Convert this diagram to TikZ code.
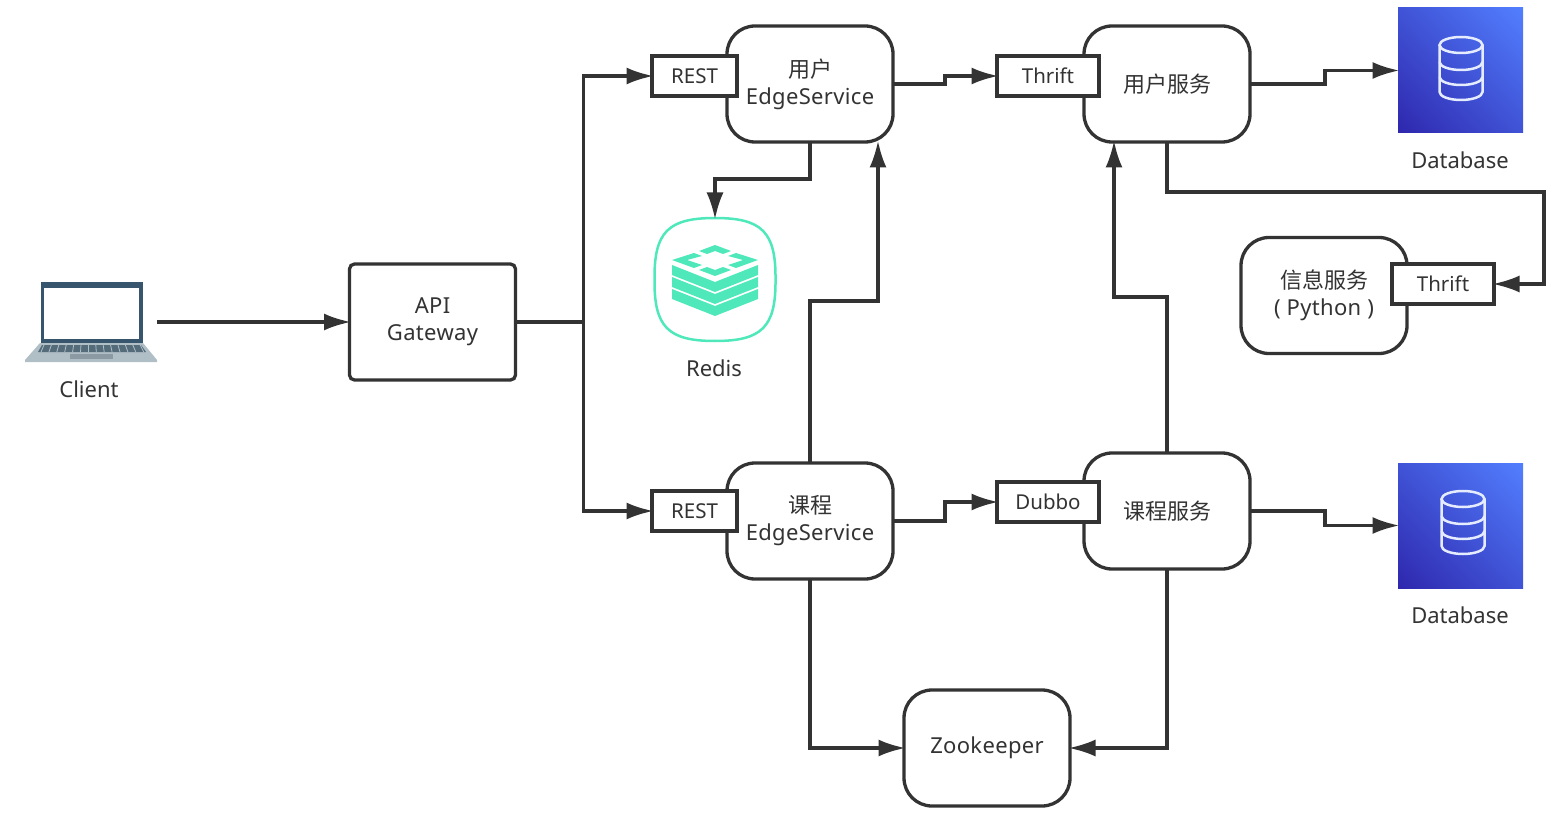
\documentclass[tikz,border=0pt]{standalone}
\usepackage{fontspec}
\setmainfont{Noto Sans}
\newfontfamily\blockfont[LetterSpace=1.5]{Noto Sans}
\newfontfamily\cjk{Noto Sans CJK SC}
\usetikzlibrary{arrows.meta, positioning, shadings}
\definecolor{inkgray}{RGB}{51, 51, 51}
\definecolor{redisgreen}{RGB}{78, 232, 186}
\definecolor{dblow}{RGB}{46, 39, 173}
\definecolor{dbhigh}{RGB}{82, 127, 255}
\definecolor{dbmid}{RGB}{64, 83, 214}
\definecolor{lapdark}{RGB}{55, 86, 110}
\definecolor{lapbase}{RGB}{176, 190, 197}
\definecolor{lapkeys}{RGB}{84, 107, 122}
\definecolor{lappad}{RGB}{140, 155, 163}

\begin{document}
\begin{tikzpicture}[
        x=1pt, y=-1pt,
        txt/.style={text=inkgray, font=\fontsize{22}{27}\selectfont, align=center, inner sep=0pt},
        block/.style={txt, font=\fontsize{22}{27}\selectfont\blockfont, draw=inkgray, line width=3.3pt, fill=white, outer sep=0pt, rounded corners=28pt, minimum width=166pt, minimum height=116pt, execute at begin node=\vspace{9pt}},
        gateway/.style={block, rounded corners=5pt},
        tag/.style={txt, font=\fontsize{20.5}{25}\selectfont, draw=inkgray, line width=3.3pt, fill=white, outer sep=0pt, minimum height=40pt, execute at begin node=\vspace{6pt}},
        dbbox/.style={shade, lower left=dblow, upper right=dbhigh, upper left=dbmid, lower right=dbmid, minimum width=125pt, minimum height=125pt, inner sep=0pt, outer sep=0pt},
        arrow/.style={-{Latex[length=27pt, width=17pt]}, draw=inkgray, line width=3.3pt, shorten >=-1.5pt}
    ]
        \useasboundingbox (0, 0) rectangle (1566, 818);

        % Client
        \node[minimum width=132pt, minimum height=80pt, inner sep=0pt, outer sep=0pt] (client) at (91, 322) {};
        \fill[lapdark] (41, 282) rectangle (143, 343);
        \fill[white] (43.5, 288) rectangle (139, 339);
        \fill[lapbase] (40, 343) -- (143, 343) -- (157, 360) -- (157, 362) -- (25, 362) -- (25, 360) -- cycle;
        \fill[lapkeys] (42, 345) -- (141, 345) -- (146, 352) -- (38, 352) -- cycle;
        \foreach \k in {0, 1, ..., 13} {
            \draw[lapbase, line width=0.8pt] (44+7.4*\k, 345) -- (41+7.9*\k, 352);
        }
        \fill[lappad] (70, 354) rectangle (113, 359);
        \node[txt] (clientlabel) at (89, 389) {Client};

        % Gateway
        \node[gateway] (apigw) at (432.5, 322) {API\\Gateway};

        % Edge services
        \node[block] (useredge) at (810, 84) {{\cjk 用户}\\EdgeService};
        \node[block] (courseedge) at (810, 521) {{\cjk 课程}\\EdgeService};
        \node[tag, minimum width=85pt] (restuser) at (694.5, 76) {REST};
        \node[tag, minimum width=85pt] (restcourse) at (694.5, 511) {REST};

        % Services
        \node[block] (usersvc) at (1167, 84) {\cjk 用户服务};
        \node[block] (coursesvc) at (1167, 511) {\cjk 课程服务};
        \node[block] (infosvc) at (1324, 295.5) {{\cjk 信息服务}\\( Python )};
        \node[tag, minimum width=102pt] (thriftuser) at (1048, 76) {Thrift};
        \node[tag, minimum width=102pt] (dubbo) at (1048, 502) {Dubbo};
        \node[tag, minimum width=102pt] (thriftinfo) at (1443, 284) {Thrift};

        % Zookeeper
        \node[block] (zk) at (987, 748) {Zookeeper};

        % Redis
        \node[minimum width=121pt, minimum height=123pt, inner sep=0pt, outer sep=0pt] (redis) at (715, 279.5) {};
        \draw[redisgreen, line width=2.5pt] (redis.north) .. controls (762, 218) and (776, 232) .. (redis.east)
            .. controls (776, 327) and (762, 341) .. (redis.south)
            .. controls (668, 341) and (654, 327) .. (redis.west)
            .. controls (654, 232) and (668, 218) .. (redis.north) -- cycle;
        \foreach \y in {265, 277, 289} {
            \fill[redisgreen] (672, \y) -- (715, \y+17) -- (758, \y) -- (758, \y+10) -- (715, \y+27) -- (672, \y+10) -- cycle;
        }
        \fill[redisgreen] (699, 251) -- (715, 245) -- (731, 251) -- (723, 254) -- (715, 251) -- (707, 254) -- cycle;
        \fill[redisgreen] (699, 270) -- (715, 276) -- (731, 270) -- (723, 267) -- (715, 270) -- (707, 267) -- cycle;
        \fill[redisgreen] (672, 260) -- (694, 253) -- (702, 256) -- (687, 260) -- (702, 265) -- (694, 268) -- cycle;
        \fill[redisgreen] (758, 260) -- (736, 253) -- (728, 256) -- (743, 260) -- (728, 265) -- (736, 268) -- cycle;
        \node[txt] (redislabel) at (714, 368) {Redis};

        % Databases
        \node[dbbox] (dbuser) at (1460.5, 70.5) {};
        \node[dbbox] (dbcourse) at (1460.5, 525.5) {};
        \foreach \px/\py in {1461/0, 1463/454} {
            \begin{scope}[shift={(\px, \py)}, draw=white!85!dbhigh, line width=2.5pt]
                \draw (0, 45) ellipse [x radius=21.5pt, y radius=8pt];
                \draw (-21.5, 45) -- (-21.5, 92) arc [start angle=180, end angle=360, x radius=21.5pt, y radius=8pt] -- (21.5, 45);
                \draw (-21.5, 62) arc [start angle=180, end angle=360, x radius=21.5pt, y radius=8pt];
                \draw (-21.5, 77) arc [start angle=180, end angle=360, x radius=21.5pt, y radius=8pt];
            \end{scope}
        }
        \node[txt] (dbuserlabel) at (1460, 160) {Database};
        \node[txt] (dbcourselabel) at (1460, 615) {Database};

        % Arrows
        \draw[arrow] (client.east) -- (apigw.west);
        \draw[arrow] (apigw.east) -- ++(68, 0) |- (restuser.west);
        \draw[arrow] (apigw.east) -- ++(68, 0) |- (restcourse.west);
        \draw[arrow] (useredge.east) -- ++(52, 0) |- (thriftuser.west);
        \draw[arrow] (courseedge.east) -- ++(52, 0) |- (dubbo.west);
        \draw[arrow] (usersvc.east) -- ++(75, 0) |- (dbuser.west);
        \draw[arrow] (coursesvc.east) -- ++(75, 0) |- (dbcourse.west);
        \draw[arrow] (useredge.south) -- ++(0, 37) -| (redis.north);
        \draw[arrow] (courseedge.north) -- ++(0, -162) -| ([xshift=68pt]useredge.south);
        \draw[arrow] (coursesvc.north) -- ++(0, -156) -| ([xshift=-53pt]usersvc.south);
        \draw[arrow] (usersvc.south) -- ++(0, 50) -- ++(377, 0) |- (thriftinfo.east);
        \draw[arrow] (courseedge.south) |- (zk.west);
        \draw[arrow] (coursesvc.south) |- (zk.east);
    \end{tikzpicture}
\end{document}
